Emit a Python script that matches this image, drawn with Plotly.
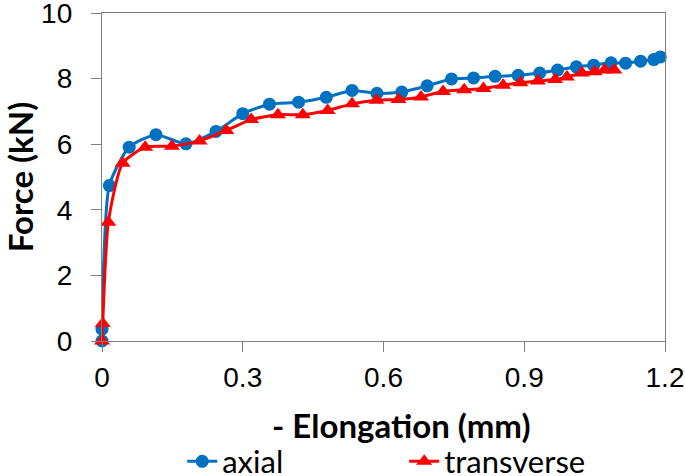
import plotly.graph_objects as go

axial_x = [0.0, 0.0, 0.0156, 0.058, 0.115, 0.179, 0.243, 0.30, 0.357, 0.419, 0.478, 0.533,
           0.586, 0.639, 0.693, 0.745, 0.792, 0.838, 0.887, 0.933, 0.971, 1.011, 1.048,
           1.085, 1.116, 1.148, 1.176, 1.19]
axial_y = [0.0, 0.36, 4.74, 5.91, 6.29, 6.01, 6.39, 6.93, 7.22, 7.28, 7.43, 7.64,
           7.55, 7.59, 7.78, 7.99, 8.02, 8.07, 8.10, 8.17, 8.26, 8.36, 8.41,
           8.48, 8.47, 8.53, 8.58, 8.66]

trans_x = [0.0, 0.0015, 0.0135, 0.044, 0.092, 0.149, 0.208, 0.265, 0.318, 0.375, 0.428,
           0.481, 0.533, 0.585, 0.632, 0.680, 0.727, 0.772, 0.813, 0.855, 0.892, 0.929,
           0.966, 0.991, 1.023, 1.050, 1.071, 1.092]
trans_y = [0.0, 0.53, 3.62, 5.42, 5.91, 5.94, 6.10, 6.42, 6.75, 6.90, 6.90,
           7.03, 7.23, 7.34, 7.36, 7.44, 7.61, 7.66, 7.70, 7.80, 7.87, 7.93,
           7.97, 8.05, 8.17, 8.21, 8.26, 8.26]

x_ticks = [0, 0.3, 0.6, 0.9, 1.2]
y_ticks = [0, 2, 4, 6, 8, 10]
x_title = "- Elongation (mm)"
y_title = "Force (kN)"

fig = go.Figure()
fig.add_trace(go.Scatter(
    x=axial_x, y=axial_y, name="axial", mode="lines+markers",
    line=dict(color="#0070C0", width=3, shape="spline", smoothing=0.6),
    marker=dict(symbol="circle", size=13, color="#0070C0"),
    cliponaxis=False,
))
fig.add_trace(go.Scatter(
    x=trans_x, y=trans_y, name="transverse", mode="lines+markers",
    line=dict(color="#FF0000", width=3, shape="spline", smoothing=0.6),
    marker=dict(symbol="triangle-up", size=14, color="#FF0000"),
    cliponaxis=False,
))

axis_common = dict(
    showgrid=False, zeroline=False, showline=True, linecolor="#7f7f7f",
    linewidth=1.3, mirror=True, ticks="outside", ticklen=10, tickcolor="#7f7f7f",
    tickwidth=1.3, automargin=False, ticklabeloverflow="allow",
    tickfont=dict(family="Liberation Sans, Arial", size=28, color="#000000"),
)

fig.update_xaxes(
    range=[0, 1.2], tickvals=x_ticks, ticktext=[str(v) for v in x_ticks],
    ticklabelstandoff=1,
    **axis_common,
)
fig.update_yaxes(
    range=[0, 10], tickvals=y_ticks,
    title=dict(text=y_title, font=dict(family="Lato", size=33, color="#000000",
               weight="bold"), standoff=16),
    ticklabelstandoff=13,
    **axis_common,
)

fig.add_annotation(
    text=x_title, xref="paper", yref="paper", x=0.531, y=0,
    xanchor="center", yanchor="middle", yshift=-84, showarrow=False,
    font=dict(family="Lato", size=33, color="#000000", weight="bold"),
)

fig.update_layout(
    width=685, height=476,
    margin=dict(l=102, r=20, t=13, b=135),
    plot_bgcolor="white", paper_bgcolor="white",
    showlegend=True,
    legend=dict(
        orientation="h", xref="container", yref="container",
        x=0.266, xanchor="left", y=0.03, yanchor="middle",
        font=dict(family="Lato", size=31, color="#000000"),
        entrywidth=177, bgcolor="rgba(0,0,0,0)",
    ),
)

fig.write_html("out.html", config={"displayModeBar": False},
               post_script="document.body.style.margin='0px';")
